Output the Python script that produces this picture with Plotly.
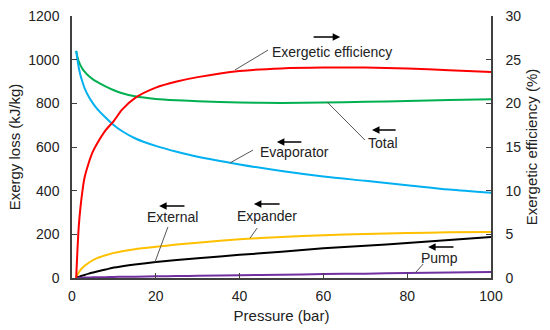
import plotly.graph_objects as go

pressure = [1, 1.3, 1.6, 2, 2.5, 3, 4, 5, 6, 8, 10, 12, 15, 20, 25, 30, 40, 50, 60, 70, 80, 90, 100]
total = [1040, 1012, 992, 975, 958, 945, 925, 910, 898, 878, 860, 846, 832, 820, 814, 810, 804, 802, 804, 807, 811, 815, 819]
evaporator = [1040, 1000, 965, 930, 898, 870, 830, 800, 775, 735, 700, 672, 640, 605, 578, 555, 520, 490, 465, 445, 425, 405, 390]
expander = [0, 14, 25, 36, 47, 56, 70, 82, 91, 104, 115, 123, 132, 143, 153, 162, 177, 188, 196, 202, 206, 209, 211]
external = [0, 3, 5, 8, 11, 14, 20, 25, 30, 39, 48, 54, 62, 73, 82, 90, 106, 120, 136, 148, 160, 174, 188]
pump = [0, 0.5, 1, 1, 1.5, 2, 2, 3, 3, 4, 5, 5.5, 6, 8, 9, 10, 13, 15, 18, 20, 23, 25, 28]
efficiency = [0, 3.2, 5.8, 8.0, 10.0, 11.5, 13.2, 14.5, 15.4, 16.9, 18.0, 19.3, 20.6, 21.8, 22.5, 23.0, 23.7, 24.0, 24.1, 24.1, 24.0, 23.8, 23.6]

x_ticks = [0, 20, 40, 60, 80, 100]
y_ticks = [0, 200, 400, 600, 800, 1000, 1200]
y2_ticks = [0, 5, 10, 15, 20, 25, 30]

FONT = "Liberation Sans, Arial, sans-serif"
AX = "#404040"

fig = go.Figure()
series = [
    (total, "#00b050", "Total"),
    (evaporator, "#00b0f0", "Evaporator"),
    (expander, "#ffc000", "Expander"),
    (external, "#000000", "External"),
    (pump, "#7030a0", "Pump"),
]
for vals, col, name in series:
    fig.add_trace(go.Scatter(x=pressure, y=vals, mode="lines", name=name,
                             line=dict(color=col, width=2, shape="spline", smoothing=0.8)))
fig.add_trace(go.Scatter(x=pressure, y=efficiency, mode="lines", name="Exergetic efficiency",
                         yaxis="y2", line=dict(color="#ff0000", width=2, shape="spline", smoothing=0.8)))

# labels: (text, x, y, xanchor)
labels = [
    ("Exergetic efficiency", 47.3, 1035, "left"),
    ("Total", 74.2, 618, "center"),
    ("Evaporator", 44.4, 577, "left"),
    ("External", 24.1, 279, "center"),
    ("Expander", 38.9, 284, "left"),
    ("Pump", 87.8, 92, "center"),
]
ann = []
for t, x, y, xa in labels:
    ann.append(dict(text=t, x=x, y=y, xref="x", yref="y", xanchor=xa, yanchor="middle",
                    showarrow=False, font=dict(family=FONT, size=14, color="#222")))

# direction arrows: head x, tail x, y
arrows = [
    (64.0, 57.3, 1104),
    (71.6, 77.6, 678),
    (48.9, 55.1, 623),
    (20.8, 27.2, 330),
    (43.4, 49.9, 339),
    (85.0, 91.4, 142),
]
for hx, tx, y in arrows:
    ann.append(dict(text="", x=hx, y=y, ax=tx, ay=y, xref="x", yref="y", axref="x", ayref="y",
                    showarrow=True, arrowhead=2, arrowsize=1, arrowwidth=1.5, arrowcolor="#000",
                    standoff=0, startstandoff=0))

# leader lines
leaders = [
    (38.9, 953, 46.8, 1044),
    (60.9, 806, 69.9, 632),
    (37.7, 527, 43.2, 586),
    (19.8, 73, 22.9, 234),
    (42.5, 183, 44.2, 229),
    (81.9, 23, 83.8, 64),
]
shapes = [dict(type="line", x0=a, y0=b, x1=c, y1=d, xref="x", yref="y",
               line=dict(color="#555", width=1)) for a, b, c, d in leaders]

fig.update_layout(
    width=550, height=330,
    margin=dict(l=72, r=59, t=16, b=52, autoexpand=False),
    paper_bgcolor="white", plot_bgcolor="white",
    showlegend=False,
    font=dict(family=FONT, size=14, color="#222"),
    annotations=ann, shapes=shapes,
    xaxis=dict(range=[0, 100], tickvals=x_ticks, showgrid=False, zeroline=False, automargin=False,
               showline=True, linecolor=AX, linewidth=1.5, ticks="inside", ticklen=5,
               tickcolor=AX, tickwidth=1, ticklabelstandoff=4,
               title=dict(text="Pressure (bar)", font=dict(size=15), standoff=8)),
    yaxis=dict(range=[0, 1200], tickvals=y_ticks, showgrid=False, zeroline=False, automargin=False,
               showline=True, linecolor=AX, linewidth=1.5, ticks="inside", ticklen=5,
               tickcolor=AX, tickwidth=1, ticklabelstandoff=8,
               title=dict(text="Exergy loss (kJ/kg)", font=dict(size=15), standoff=4)),
    yaxis2=dict(range=[0, 30], tickvals=y2_ticks, overlaying="y", side="right", automargin=False,
                showgrid=False, zeroline=False, showline=True, linecolor=AX, linewidth=1.5,
                ticks="inside", ticklen=5, tickcolor=AX, tickwidth=1, ticklabelstandoff=10,
                title=dict(text="Exergetic efficiency (%)", font=dict(size=15), standoff=6)),
)

fig.write_html("out.html", config={"displayModeBar": False},
               post_script="document.body.style.margin='0';")
